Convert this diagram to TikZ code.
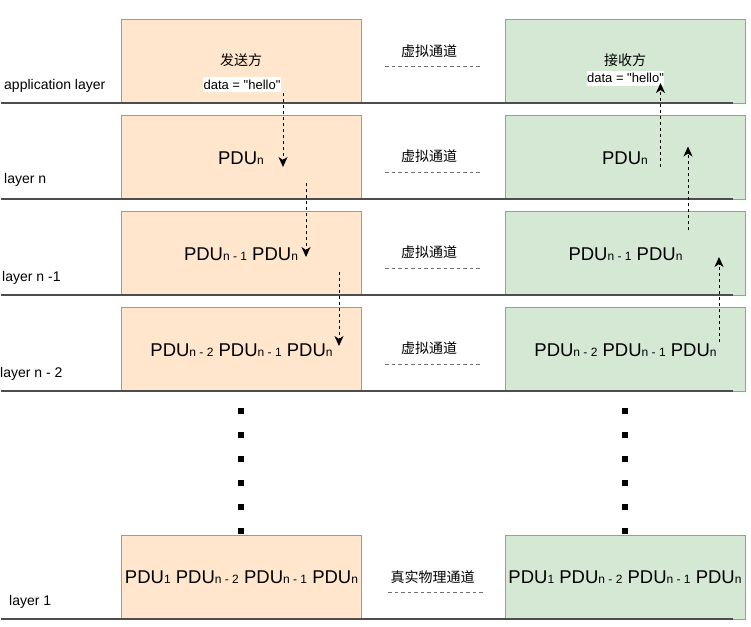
\documentclass[tikz,border=0pt]{standalone}
\usepackage{fontspec}
\setmainfont{Liberation Sans}[Ligatures=TeXOff]
\newfontfamily\cjk{Noto Sans CJK SC}
\usetikzlibrary{arrows.meta}
\definecolor{ofill}{HTML}{FFE6CC}
\definecolor{odraw}{HTML}{D79B00}
\definecolor{gfill}{HTML}{D5E8D4}
\definecolor{gdraw}{HTML}{82B366}
\definecolor{layerc}{HTML}{4D4D4D}
\definecolor{midc}{HTML}{707070}
\newcommand{\pdusub}[1]{PDU{\fontsize{12}{12}\selectfont #1}}
\begin{document}
\begin{tikzpicture}[x=1pt,y=-1pt,
  box/.style={draw, line width=1pt, minimum width=240pt, minimum height=84pt, inner sep=0pt, anchor=north west},
  sendbox/.style={box, fill=ofill, draw=odraw},
  recvbox/.style={box, fill=gfill, draw=gdraw},
  layerline/.style={draw=layerc, line width=2pt},
  midline/.style={draw=midc, line width=1pt, dash pattern=on 3.5pt off 3pt},
  flow/.style={draw=black, line width=1pt, dash pattern=on 3pt off 3pt, -{Stealth[length=10pt,width=9pt,inset=3pt]}},
  dotcol/.style={line width=6pt, dash pattern=on 6pt off 18pt},
  lab/.style={font=\fontsize{14}{14}\selectfont, anchor=base west, inner sep=0pt},
  cjklab/.style={font=\cjk\fontsize{14}{14}\selectfont, anchor=base, inner sep=0pt},
  pdu/.style={font=\fontsize{18.5}{18.5}\selectfont, anchor=base, inner sep=0pt},
  datab/.style={font=\fontsize{13}{13}\selectfont, fill=white, anchor=base, inner xsep=0.5pt, inner ysep=0pt, text height=11.7pt, text depth=3.3pt}
]
\useasboundingbox (0,0) rectangle (751,626);

% boxes
\node[sendbox] (s1) at (121,19) {};
\node[sendbox] (s2) at (121,115) {};
\node[sendbox] (s3) at (121,211) {};
\node[sendbox] (s4) at (121,307) {};
\node[sendbox] (s5) at (121,535) {};
\node[recvbox] (r1) at (505,19) {};
\node[recvbox] (r2) at (505,115) {};
\node[recvbox] (r3) at (505,211) {};
\node[recvbox] (r4) at (505,307) {};
\node[recvbox] (r5) at (505,535) {};

% layer lines
\draw[layerline] (1,103) -- (733,103);
\draw[layerline] (1,199) -- (733,199);
\draw[layerline] (1,295) -- (733,295);
\draw[layerline] (1,391) -- (733,391);
\draw[layerline] (1,619) -- (733,619);

% layer labels
\node[lab] (l1) at (4,89) {application layer};
\node[lab] (l2) at (4,183) {layer n};
\node[lab] (l3) at (2,281) {layer n -1};
\node[lab] (l4) at (0,377) {layer n - 2};
\node[lab] (l5) at (9,605) {layer 1};

% channel labels
\node[cjklab] (c1) at (429,56.3) {虚拟通道};
\node[cjklab] (c2) at (429,161.3) {虚拟通道};
\node[cjklab] (c3) at (429,257.8) {虚拟通道};
\node[cjklab] (c4) at (429,353.6) {虚拟通道};
\node[cjklab] (c5) at (432.5,582) {真实物理通道};
\draw[midline] (385,66.5) -- (482,66.5);
\draw[midline] (385,172.5) -- (482,172.5);
\draw[midline] (385,268.5) -- (482,268.5);
\draw[midline] (385,364.5) -- (482,364.5);
\draw[midline] (388,592) -- (485,592);

% top texts
\node[cjklab] (snd) at (241,65.3) {发送方};
\node[cjklab] (rcv) at (625,65.8) {接收方};
\node[datab] (sd) at (242,89) {data = "hello"};
\node[datab] (rd) at (625.5,82.5) {data = "hello"};

% PDU texts
\node[pdu] (p2l) at (241,164) {\pdusub{n}};
\node[pdu] (p2r) at (625,164) {\pdusub{n}};
\node[pdu] (p3l) at (241,260.5) {\pdusub{n - 1} \pdusub{n}};
\node[pdu] (p3r) at (625.5,260.5) {\pdusub{n - 1} \pdusub{n}};
\node[pdu] (p4l) at (241.5,356) {\pdusub{n - 2} \pdusub{n - 1} \pdusub{n}};
\node[pdu] (p4r) at (625.5,356) {\pdusub{n - 2} \pdusub{n - 1} \pdusub{n}};
\node[pdu] (p5l) at (241.5,583.3) {\pdusub{1} \pdusub{n - 2} \pdusub{n - 1} \pdusub{n}};
\node[pdu] (p5r) at (625,583.3) {\pdusub{1} \pdusub{n - 2} \pdusub{n - 1} \pdusub{n}};

% dotted columns
\coordinate (dl1) at (241,408);
\coordinate (dl2) at (241,535);
\coordinate (dr1) at (625,408);
\coordinate (dr2) at (625,535);
\draw[dotcol] (dl1) -- (dl2);
\draw[dotcol] (dr1) -- (dr2);

% flow arrows
\coordinate (a1s) at (283,93);   \coordinate (a1e) at (283,167);
\coordinate (a2s) at (306,183);  \coordinate (a2e) at (306,257);
\coordinate (a3s) at (339,272);  \coordinate (a3e) at (339,346);
\coordinate (b1s) at (660.5,167); \coordinate (b1e) at (660.5,83);
\coordinate (b2s) at (688,230);  \coordinate (b2e) at (688,146.5);
\coordinate (b3s) at (719,342);  \coordinate (b3e) at (719,257);
\draw[flow] (a1s) -- (a1e);
\draw[flow] (a2s) -- (a2e);
\draw[flow] (a3s) -- (a3e);
\draw[flow] (b1s) -- (b1e);
\draw[flow] (b2s) -- (b2e);
\draw[flow] (b3s) -- (b3e);
\end{tikzpicture}
\end{document}
